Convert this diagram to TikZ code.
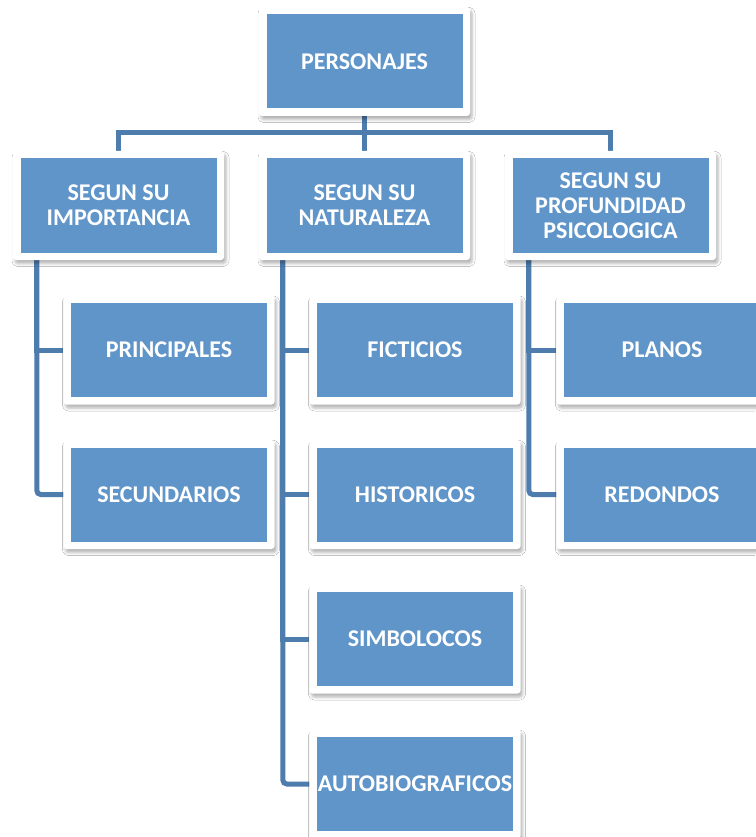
\documentclass[tikz,border=0pt]{standalone}
\usepackage{fontspec}
\setmainfont{Carlito}
\usetikzlibrary{shadows.blur,backgrounds}
\definecolor{boxblue}{RGB}{96,149,201}
\definecolor{linkblue}{RGB}{78,124,172}
\begin{document}
\begin{tikzpicture}[x=1pt,y=-1pt,
  card/.style={rectangle, fill=white, rounded corners=3pt,
    minimum width=211pt, minimum height=109pt, inner sep=0pt,
    text=white, align=center,
    font=\bfseries\fontsize{24}{25}\selectfont,
    blur shadow={shadow xshift=2pt, shadow yshift=-3.5pt, shadow blur radius=3pt, shadow opacity=30},
    path picture={\fill[boxblue, sharp corners] ([shift={(7.5pt,-7.5pt)}]path picture bounding box.north west) rectangle ([shift={(-7.5pt,7.5pt)}]path picture bounding box.south east);}},
  link/.style={draw=linkblue, line width=5pt}]
\useasboundingbox (0,0) rectangle (755,837);

\node[card] (top) at (364.5,61.5) {PERSONAJES};
\node[card] (imp) at (118.5,205.5) {SEGUN SU\\IMPORTANCIA};
\node[card] (nat) at (364.5,205.5) {SEGUN SU\\NATURALEZA};
\node[card] (pro) at (610.5,205.5) {SEGUN SU\\PROFUNDIDAD\\PSICOLOGICA};

\node[card] (pri) at (169,350) {PRINCIPALES};
\node[card] (sec) at (169,494.5) {SECUNDARIOS};
\node[card] (fic) at (415,350) {FICTICIOS};
\node[card] (his) at (415,494.5) {HISTORICOS};
\node[card] (sim) at (415,639) {SIMBOLOCOS};
\node[card] (aut) at (415,784) {AUTOBIOGRAFICOS};
\node[card] (pla) at (662,350) {PLANOS};
\node[card] (red) at (662,494.5) {REDONDOS};

\begin{scope}[on background layer]
  \fill[white] (0,0) rectangle (755,837);
  \coordinate (bus) at (364.5,133);
  \draw[link] (top) -- (nat);
  \draw[link] (imp) |- (bus) -| (pro);
  \coordinate (impv) at ([xshift=24pt]imp.south west);
  \coordinate (natv) at ([xshift=24pt]nat.south west);
  \coordinate (prov) at ([xshift=24pt]pro.south west);
  \draw[link] (impv) |- (pri);
  \draw[link, rounded corners=4pt] (impv) |- (sec);
  \draw[link] (natv) |- (fic);
  \draw[link] (natv) |- (his);
  \draw[link] (natv) |- (sim);
  \draw[link, rounded corners=4pt] (natv) |- (aut);
  \draw[link] (prov) |- (pla);
  \draw[link, rounded corners=4pt] (prov) |- (red);
\end{scope}
\end{tikzpicture}
\end{document}
